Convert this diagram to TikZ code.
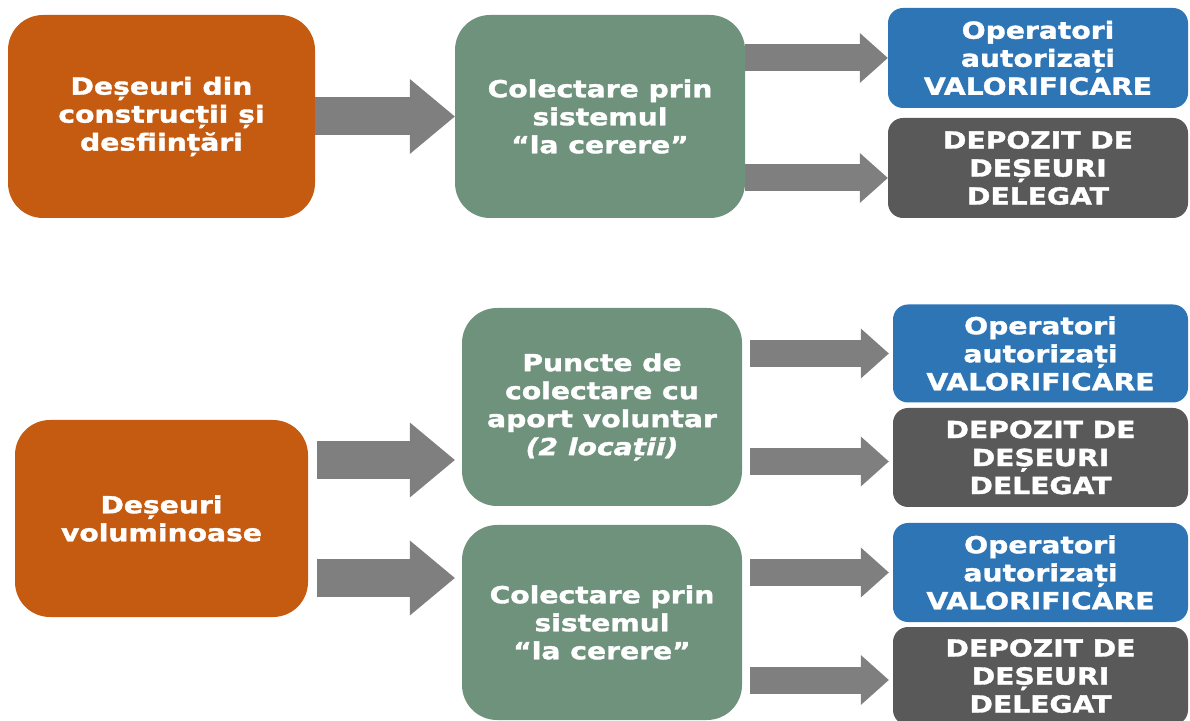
\documentclass[tikz,border=0pt]{standalone}
\usepackage{fontspec}
\setmainfont{DejaVu Sans}[FakeStretch=1.2, BoldFeatures={FakeBold=1.5}, BoldItalicFeatures={FakeBold=1.5}]
\usetikzlibrary{arrows.meta}

\definecolor{wasteorange}{HTML}{C55A11}
\definecolor{collectgreen}{HTML}{6F927D}
\definecolor{operatorblue}{HTML}{2E75B6}
\definecolor{depositgray}{HTML}{595959}
\definecolor{flowgray}{HTML}{7F7F7F}

\begin{document}
\begin{tikzpicture}[
    x=1pt, y=1pt,
    box/.style={rectangle, inner sep=0pt, text=white, align=center,
        font=\fontsize{23.5}{28}\selectfont\bfseries},
    source/.style={box, fill=wasteorange, rounded corners=35pt},
    collect/.style={box, fill=collectgreen, rounded corners=35pt},
    operator/.style={box, fill=operatorblue, rounded corners=15pt},
    deposit/.style={box, fill=depositgray, rounded corners=15pt},
    feed/.style={draw=flowgray, line width=38pt,
        -{Triangle[length=45pt, width=75pt, line width=0pt]}},
    route/.style={draw=flowgray, line width=27pt,
        -{Triangle[length=28pt, width=50pt, line width=0pt]}}
]
\useasboundingbox (0,0) rectangle (1190,720);

% first chain
\node (Waste01) [source, minimum width=307pt, minimum height=203pt] at (161.5,603.5)
    {Deșeuri din\\construcții și\\desființări};
\node (Collect01) [collect, minimum width=290pt, minimum height=203pt] at (600,603.5)
    {Colectare prin\\sistemul\\“la cerere”};
\node (Operator01) [operator, minimum width=300pt, minimum height=100pt] at (1038,662)
    {Operatori\\autorizați\\VALORIFICARE};
\node (Deposit01) [deposit, minimum width=300pt, minimum height=100pt] at (1038,552)
    {DEPOZIT DE\\DEȘEURI\\DELEGAT};

% second chain
\node (Waste02) [source, minimum width=293pt, minimum height=197pt] at (161.5,201.5)
    {Deșeuri\\voluminoase};
\node (Collect02) [collect, minimum width=280pt, minimum height=198pt] at (602,313)
    {Puncte de\\colectare cu\\aport voluntar\\{\itshape(2 locații)}};
\node (Collect03) [collect, minimum width=280pt, minimum height=195pt] at (602,97.5)
    {Colectare prin\\sistemul\\“la cerere”};
\node (Operator02) [operator, minimum width=295pt, minimum height=98pt] at (1040.5,366.5)
    {Operatori\\autorizați\\VALORIFICARE};
\node (Deposit02) [deposit, minimum width=295pt, minimum height=99pt] at (1040.5,262.5)
    {DEPOZIT DE\\DEȘEURI\\DELEGAT};
\node (Operator03) [operator, minimum width=295pt, minimum height=99pt] at (1040.5,147.5)
    {Operatori\\autorizați\\VALORIFICARE};
\node (Deposit03) [deposit, minimum width=295pt, minimum height=98pt] at (1040.5,44)
    {DEPOZIT DE\\DEȘEURI\\DELEGAT};

\coordinate (Drop01) at ([yshift=-10pt]Deposit01.west);
\coordinate (Drop02) at ([yshift=-4pt]Deposit02.west);
\coordinate (Drop03) at ([yshift=-4pt]Deposit03.west);
\coordinate (Split01) at ([yshift=58.5pt]Waste02.east);
\coordinate (Split02) at ([yshift=-59.5pt]Waste02.east);

\draw[feed] (Waste01) -- (Collect01);
\draw[route] (Collect01.east |- Operator01.west) -- (Operator01.west);
\draw[route] (Collect01.east |- Drop01) -- (Drop01);

\draw[feed, shorten <=9pt, shorten >=7pt] (Split01) -- (Collect02.west |- Split01);
\draw[feed, shorten <=9pt, shorten >=7pt] (Split02) -- (Collect03.west |- Split02);
\draw[route, shorten <=8pt, shorten >=4pt] (Collect02.east |- Operator02.west) -- (Operator02.west);
\draw[route, shorten <=8pt, shorten >=4pt] (Collect02.east |- Drop02) -- (Drop02);
\draw[route, shorten <=8pt, shorten >=4pt] (Collect03.east |- Operator03.west) -- (Operator03.west);
\draw[route, shorten <=8pt, shorten >=4pt] (Collect03.east |- Drop03) -- (Drop03);

\end{tikzpicture}
\end{document}
